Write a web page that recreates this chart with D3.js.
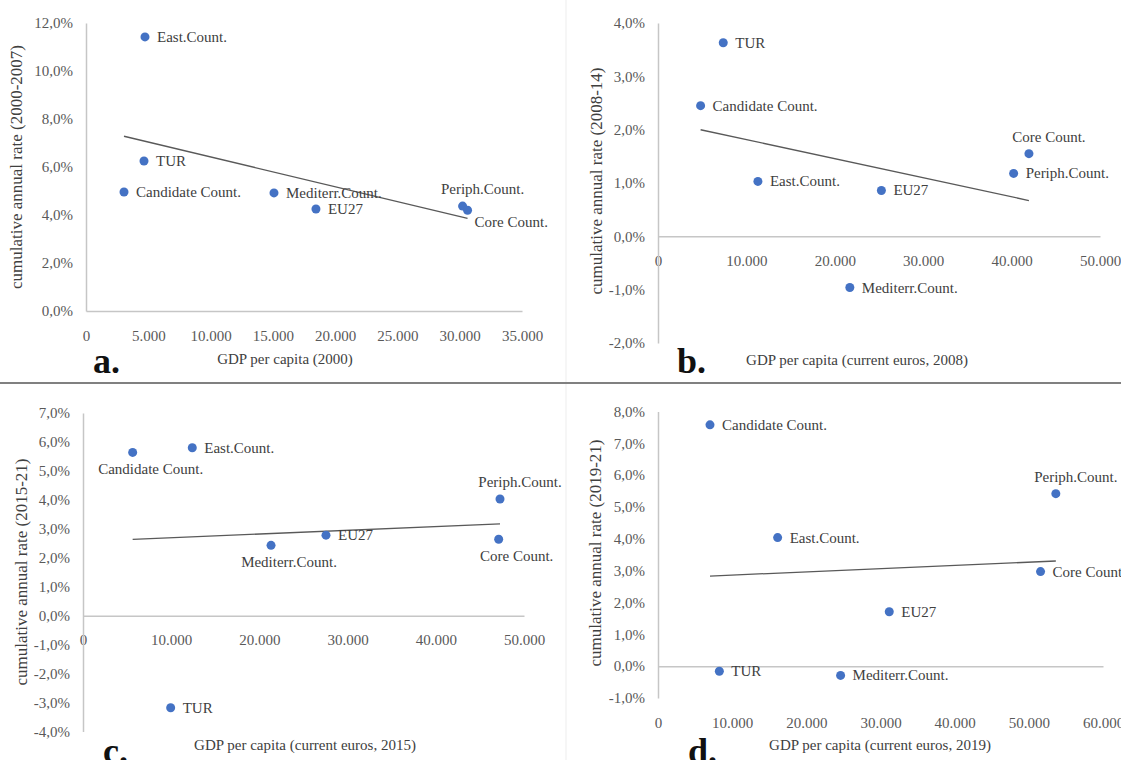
<!DOCTYPE html>
<html>
<head>
<meta charset="utf-8">
<script src="https://cdn.jsdelivr.net/npm/d3@7"></script>
<style>
  html, body { margin: 0; padding: 0; background: #fff; }
  svg { display: block; font-family: "Liberation Serif", "DejaVu Serif", serif; }
</style>
</head>
<body>
<svg id="chart" width="1121" height="760"></svg>
<script>
// ---------- DATA ----------
const categories = ["East.Count.", "TUR", "Candidate Count.", "Mediterr.Count.", "EU27", "Periph.Count.", "Core Count."];

// a. 2000-2007
const gdpA  = [4735, 4655, 3050, 15090, 18460, 30230, 30630];
const rateA = [11.42, 6.25, 4.96, 4.92, 4.25, 4.37, 4.20];
// b. 2008-14
const gdpB  = [11300, 7380, 4820, 21700, 25270, 40230, 41960];
const rateB = [1.03, 3.63, 2.45, -0.96, 0.86, 1.18, 1.55];
// c. 2015-21
const gdpC  = [12390, 9940, 5630, 21320, 27550, 47280, 47130];
const rateC = [5.80, -3.18, 5.64, 2.43, 2.78, 4.03, 2.64];
// d. 2019-21
const gdpD  = [16130, 8270, 7010, 24620, 31180, 53640, 51580];
const rateD = [4.04, -0.16, 7.58, -0.29, 1.71, 5.42, 2.97];

// tick values
const xTicksA = [0, 5000, 10000, 15000, 20000, 25000, 30000, 35000];
const yTicksA = [0, 2, 4, 6, 8, 10, 12];
const xTicksB = [0, 10000, 20000, 30000, 40000, 50000];
const yTicksB = [-2, -1, 0, 1, 2, 3, 4];
const xTicksC = [0, 10000, 20000, 30000, 40000, 50000];
const yTicksC = [-4, -3, -2, -1, 0, 1, 2, 3, 4, 5, 6, 7];
const xTicksD = [0, 10000, 20000, 30000, 40000, 50000, 60000];
const yTicksD = [-1, 0, 1, 2, 3, 4, 5, 6, 7, 8];

// axis titles
const yTitles = ["cumulative annual rate (2000-2007)", "cumulative annual rate (2008-14)",
                 "cumulative annual rate (2015-21)", "cumulative annual rate (2019-21)"];
const xTitles = ["GDP per capita (2000)", "GDP per capita (current euros, 2008)",
                 "GDP per capita (current euros, 2015)", "GDP per capita (current euros, 2019)"];
const panelLetters = ["a.", "b.", "c.", "d."];

// data label placement (category order)
const placeA = ["right", "right", "right", "right", "right", "above", "belowRight"];
const placeB = ["right", "right", "right", "right", "right", "right", "above"];
const placeC = ["right", "right", "below", "below", "right", "above", "below"];
const placeD = ["right", "right", "right", "right", "right", "above", "right"];

// ---------- RENDER ----------
const loc = d3.formatLocale({decimal: ",", thousands: ".", grouping: [3], currency: ["", "€"], minus: "-"});
const fmtX = v => v === 0 ? "0" : loc.format(",.0f")(v);
const fmtY = v => loc.format(".1f")(v) + "%";

const svg = d3.select("#chart");
svg.append("rect").attr("width", 1121).attr("height", 760).attr("fill", "#fff");

// separators
svg.append("line").attr("x1", 566).attr("x2", 566).attr("y1", 0).attr("y2", 760)
  .attr("stroke", "#ededed").attr("stroke-width", 1);
svg.append("line").attr("x1", 0).attr("x2", 1121).attr("y1", 383).attr("y2", 383)
  .attr("stroke", "#808080").attr("stroke-width", 2);

const panels = [
  {gdp: gdpA, rate: rateA, xt: xTicksA, yt: yTicksA, place: placeA, i: 0,
   xr: [86, 522], yr: [311, 23], xLabelAtZero: true,
   yTitle: [18, 167], xTitle: [285, 364], letter: [93, 373]},
  {gdp: gdpB, rate: rateB, xt: xTicksB, yt: yTicksB, place: placeB, i: 1,
   xr: [658, 1100], yr: [343, 23], xLabelAtZero: true,
   yTitle: [598, 181], xTitle: [857, 365], letter: [677, 373]},
  {gdp: gdpC, rate: rateC, xt: xTicksC, yt: yTicksC, place: placeC, i: 2,
   xr: [83, 524], yr: [731.5, 413], xLabelAtZero: true,
   yTitle: [23, 572], xTitle: [305, 750], letter: [103, 763]},
  {gdp: gdpD, rate: rateD, xt: xTicksD, yt: yTicksD, place: placeD, i: 3,
   xr: [658, 1103], yr: [698, 411.5], xLabelAtZero: false,
   yTitle: [597, 553], xTitle: [880, 750], letter: [688, 763]}
];

panels.forEach(p => {
  const g = svg.append("g");
  const x = d3.scaleLinear().domain([p.xt[0], p.xt[p.xt.length - 1]]).range(p.xr);
  const y = d3.scaleLinear().domain([p.yt[0], p.yt[p.yt.length - 1]]).range(p.yr);
  const y0 = y(0);

  // axes lines
  const axisColor = "#c6c6c6";
  const xAxis = d3.axisBottom(x).tickValues(p.xt).tickSize(0).tickFormat(fmtX).tickPadding(19);
  const xg = g.append("g").attr("transform", `translate(0,${y0})`).call(xAxis);
  xg.select(".domain").attr("stroke", axisColor).attr("stroke-width", 1.5);
  if (!p.xLabelAtZero) {
    xg.selectAll(".tick text").attr("transform", `translate(0,${y(p.yt[0]) - y0})`);
  }
  xg.selectAll(".tick text").attr("font-size", 15).attr("fill", "#595959")
    .attr("font-family", "Liberation Serif");

  const yAxis = d3.axisLeft(y).tickValues(p.yt).tickSize(0).tickFormat(fmtY).tickPadding(13);
  const yg = g.append("g").attr("transform", `translate(${p.xr[0]},0)`).call(yAxis);
  yg.select(".domain").attr("stroke", axisColor).attr("stroke-width", 1.5);
  yg.selectAll(".tick text").attr("font-size", 15).attr("fill", "#595959")
    .attr("font-family", "Liberation Serif");

  // trend line (OLS)
  const n = p.gdp.length;
  const mx = d3.mean(p.gdp), my = d3.mean(p.rate);
  let sxy = 0, sxx = 0;
  for (let k = 0; k < n; k++) { sxy += (p.gdp[k] - mx) * (p.rate[k] - my); sxx += (p.gdp[k] - mx) ** 2; }
  const slope = sxy / sxx, icpt = my - slope * mx;
  const [xmin, xmax] = d3.extent(p.gdp);
  g.append("line")
    .attr("x1", x(xmin)).attr("y1", y(icpt + slope * xmin))
    .attr("x2", x(xmax)).attr("y2", y(icpt + slope * xmax))
    .attr("stroke", "#595959").attr("stroke-width", 1.3);

  // points
  const pts = categories.map((c, k) => ({name: c, gx: p.gdp[k], ry: p.rate[k], pos: p.place[k]}));
  g.selectAll("circle.pt").data(pts).enter().append("circle")
    .attr("cx", d => x(d.gx)).attr("cy", d => y(d.ry)).attr("r", 4.5)
    .attr("fill", "#4472C4");

  // labels
  g.selectAll("text.lbl").data(pts).enter().append("text")
    .attr("class", "lbl")
    .attr("font-size", 15).attr("fill", "#404040")
    .attr("text-anchor", d => (d.pos === "above" || d.pos === "below") ? "middle" : "start")
    .attr("x", d => {
      const cx = x(d.gx);
      if (d.pos === "right") return cx + 12;
      if (d.pos === "above") return cx + 20;
      if (d.pos === "below") return cx + 18;
      return cx + 7;
    })
    .attr("y", d => {
      const cy = y(d.ry);
      if (d.pos === "right") return cy + 5;
      if (d.pos === "above") return cy - 12;
      if (d.pos === "below") return cy + 22;
      return cy + 17;
    })
    .text(d => d.name);

  // axis titles
  svg.append("text")
    .attr("transform", `translate(${p.yTitle[0]},${p.yTitle[1]}) rotate(-90)`)
    .attr("text-anchor", "middle").attr("dominant-baseline", "middle")
    .attr("font-size", 17).attr("fill", "#404040")
    .text(yTitles[p.i]);
  svg.append("text")
    .attr("x", p.xTitle[0]).attr("y", p.xTitle[1])
    .attr("text-anchor", "middle")
    .attr("font-size", 15).attr("fill", "#404040")
    .text(xTitles[p.i]);
  svg.append("text")
    .attr("x", p.letter[0]).attr("y", p.letter[1])
    .attr("font-size", 36).attr("font-weight", "bold").attr("fill", "#111")
    .text(panelLetters[p.i]);
});
</script>
</body>
</html>
